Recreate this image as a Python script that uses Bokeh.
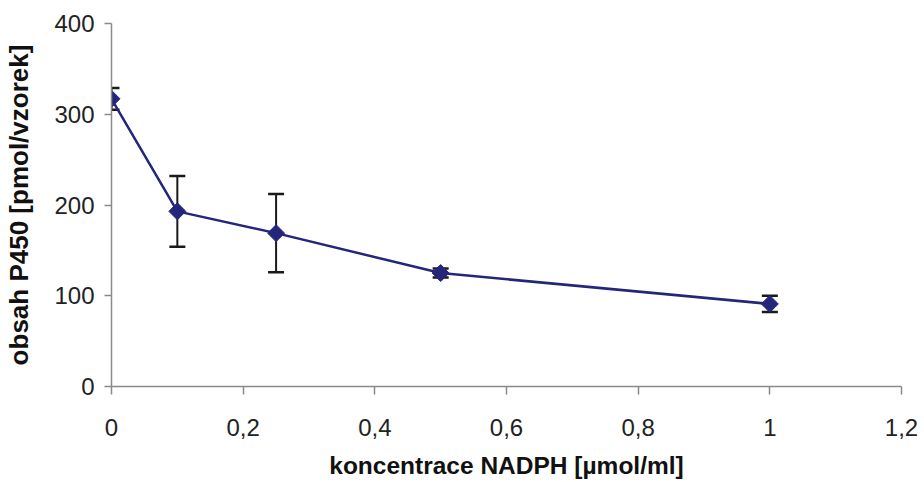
import numpy as np
from bokeh.plotting import figure
from bokeh.models import ColumnDataSource, FixedTicker, CustomJSTickFormatter, Range1d
from bokeh.embed import file_html
from bokeh.resources import INLINE

# data
nadph = [0, 0.1, 0.25, 0.5, 1]
p450 = [317, 193, 169, 125, 91]
p450_err = [12, 39, 43, 5, 9]
x_ticks = [0, 0.2, 0.4, 0.6, 0.8, 1, 1.2]
y_ticks = [0, 100, 200, 300, 400]

lower = [v - e for v, e in zip(p450, p450_err)]
upper = [v + e for v, e in zip(p450, p450_err)]
src = ColumnDataSource(dict(x=nadph, y=p450, lower=lower, upper=upper))

LINE = "#23267a"
ERR = "#1a1a1a"
AX = "#8a8a8a"
FONT = "Liberation Sans"

p = figure(width=920, height=481, output_backend="svg", toolbar_location=None,
           x_range=Range1d(0, 1.2), y_range=Range1d(0, 400),
           min_border_left=111, min_border_right=19, min_border_top=23, min_border_bottom=92)
p.outline_line_color = None
p.xgrid.visible = False
p.ygrid.visible = False
p.background_fill_color = "white"
p.border_fill_color = "white"

# error bars
p.segment(x0="x", y0="lower", x1="x", y1="upper", source=src, line_color=ERR, line_width=2)
p.scatter(x="x", y="lower", source=src, marker="dash", size=16, line_color=ERR, line_width=2.5)
p.scatter(x="x", y="upper", source=src, marker="dash", size=16, line_color=ERR, line_width=2.5)

# line + markers
p.line(x="x", y="y", source=src, line_color=LINE, line_width=2.5)
p.scatter(x="x", y="y", source=src, marker="square", angle=np.pi / 4, size=12,
          fill_color=LINE, line_color=LINE)

# axes
p.xaxis.ticker = FixedTicker(ticks=x_ticks)
p.xaxis.formatter = CustomJSTickFormatter(
    code="var s = (Math.round(tick*10)/10).toString(); return s.replace('.', ',');")
p.yaxis.ticker = FixedTicker(ticks=y_ticks)

for ax in (p.xaxis[0], p.yaxis[0]):
    ax.axis_line_color = AX
    ax.axis_line_width = 1.5
    ax.major_tick_line_color = AX
    ax.major_tick_line_width = 1.5
    ax.major_tick_in = 0
    ax.minor_tick_line_color = None
    ax.major_label_text_font = FONT
    ax.major_label_text_font_size = "24px"
    ax.major_label_text_color = "#222222"
    ax.axis_label_text_font = FONT
    ax.axis_label_text_font_style = "bold"
    ax.axis_label_text_color = "#111111"

p.xaxis.axis_label_text_font_size = "24.5px"
p.yaxis.axis_label_text_font_size = "26px"
p.xaxis.major_tick_out = 8
p.yaxis.major_tick_out = 7
p.xaxis.major_label_standoff = 24
p.yaxis.major_label_standoff = 10
p.xaxis.axis_label = "koncentrace NADPH [µmol/ml]"
p.yaxis.axis_label = "obsah P450 [pmol/vzorek]"
p.xaxis.axis_label_standoff = 13
p.yaxis.axis_label_standoff = 17

open("out.html", "w").write(file_html(p, INLINE))
